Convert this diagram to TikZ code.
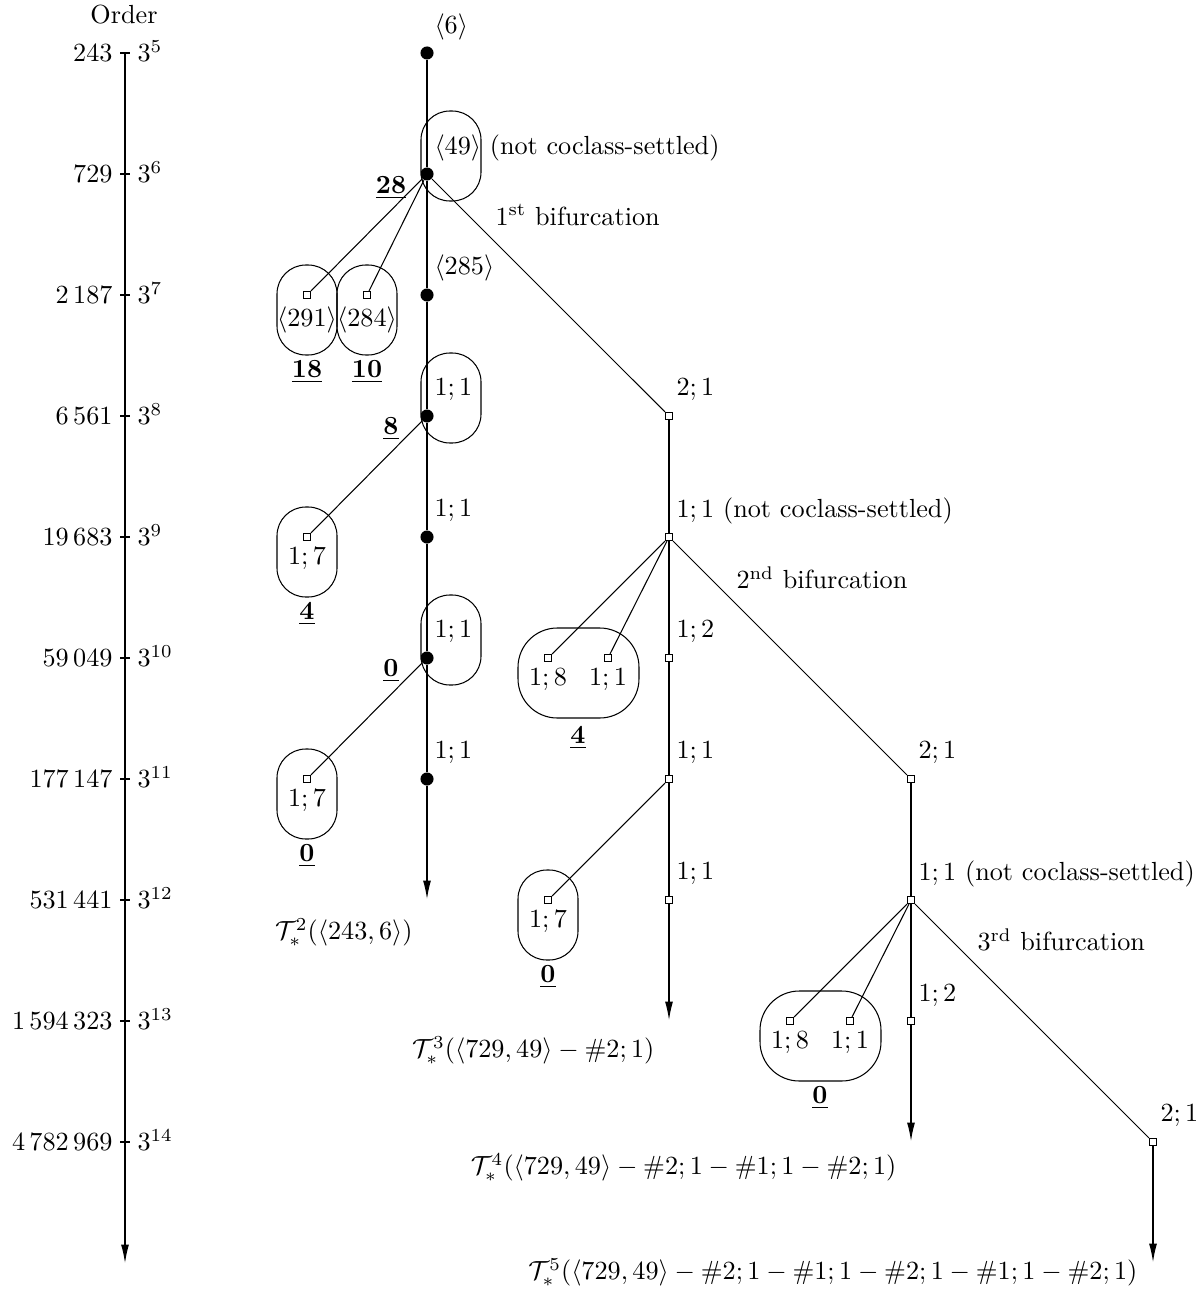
\documentclass[tikz,border=0pt]{standalone}
\usetikzlibrary{arrows.meta}
\tikzset{
  x=0.3817pt, y=-0.3817pt,
  dotn/.style={circle, fill=black, inner sep=0pt, minimum size=5pt},
  sqn/.style={draw, rectangle, inner sep=0pt, minimum size=2.7pt, line width=0.4pt},
  lbl/.style={anchor=west, inner sep=0pt},
  ctr/.style={inner sep=0pt},
  grp/.style={draw, rounded corners=11pt, line width=0.4pt},
  wgrp/.style={draw, rounded corners=15pt, line width=0.4pt},
  edge/.style={line width=0.4pt},
  arr/.style={line width=0.4pt, -{Latex[length=7pt,width=3pt]}},
}
\newcommand{\cnum}[1]{$\underline{\mathbf{#1}}$}
\begin{document}
\begin{tikzpicture}
\useasboundingbox (0,0) rectangle (1201,1289);

% ---------- order axis ----------
\node[ctr] (ordertitle) at (124,15) {Order};
\coordinate (axtop) at (125,53);
\coordinate (axend) at (125,1263);
\draw[arr] (axtop) -- (axend);
\foreach \yy/\num/\ex [count=\i] in {53/243/5, 174/729/6, 295/2\,187/7, 416/6\,561/8, 537/19\,683/9, 658/59\,049/10, 779/177\,147/11, 900/531\,441/12, 1021/1\,594\,323/13, 1142/4\,782\,969/14}{
  \coordinate (tl\i) at (120,\yy);
  \coordinate (tr\i) at (130,\yy);
  \draw[edge] (tl\i) -- (tr\i);
  \node[anchor=east, inner sep=0pt] (num\i) at (113,\yy) {$\num$};
  \node[anchor=west, inner sep=0pt] (exp\i) at (137,\yy-2) {$3^{\ex}$};
}

% ---------- main tree (coclass 2) ----------
\node[dotn] (d5) at (427,53) {};
\node[dotn] (d6) at (427,174) {};
\node[dotn] (d7) at (427,295) {};
\node[dotn] (d8) at (427,416) {};
\node[dotn] (d9) at (427,537) {};
\node[dotn] (d10) at (427,658) {};
\node[dotn] (d11) at (427,779) {};
\coordinate (e1) at (427,899);
\draw[edge] (d5) -- (d6) -- (d7) -- (d8) -- (d9) -- (d10) -- (d11);
\draw[arr] (d11) -- (e1);

\node[lbl] (l5) at (434,27) {$\langle 6\rangle$};
\node[lbl] (l6) at (434,148) {$\langle 49\rangle$ (not coclass-settled)};
\node[lbl] (l7) at (434,268) {$\langle 285\rangle$};
\node[lbl] (l8) at (434,390) {$1;1$};
\node[lbl] (l9) at (434,511) {$1;1$};
\node[lbl] (l10) at (434,632) {$1;1$};
\node[lbl] (l11) at (434,753) {$1;1$};

\draw[grp] (421,111) rectangle (481,201);
\draw[grp] (421,353) rectangle (481,443);
\draw[grp] (421,595) rectangle (481,685);

% side branches of main tree
\node[sqn] (s291) at (307,295) {};
\node[sqn] (s284) at (367,295) {};
\draw[edge] (d6) -- (s291);
\draw[edge] (d6) -- (s284);
\draw[grp] (277,265) rectangle (337,355);
\draw[grp] (337,265) rectangle (397,355);
\node[ctr] (t291) at (307,320) {$\langle 291\rangle$};
\node[ctr] (t284) at (367,320) {$\langle 284\rangle$};
\node[ctr] (n18) at (307,372) {\cnum{18}};
\node[ctr] (n10) at (367,372) {\cnum{10}};
\node[ctr] (n28) at (391,188) {\cnum{28}};

\node[sqn] (s17a) at (307,537) {};
\draw[edge] (d8) -- (s17a);
\draw[grp] (277,507) rectangle (337,597);
\node[ctr] (t17a) at (307,559) {$1;7$};
\node[ctr] (n4a) at (307,614) {\cnum{4}};
\node[ctr] (n8) at (391,429) {\cnum{8}};

\node[sqn] (s17b) at (307,779) {};
\draw[edge] (d10) -- (s17b);
\draw[grp] (277,749) rectangle (337,839);
\node[ctr] (t17b) at (307,801) {$1;7$};
\node[ctr] (n0a) at (307,856) {\cnum{0}};
\node[ctr] (n0b) at (391,671) {\cnum{0}};

\node[lbl] (bif1) at (495,215) {1\textsuperscript{st} bifurcation};
\node[anchor=north east, inner sep=0pt] (tree2) at (413,918) {$\mathcal{T}_\ast^2(\langle 243,6\rangle)$};

% ---------- branch 2 (coclass 3) ----------
\node[sqn] (b2a) at (669,416) {};
\node[sqn] (b2b) at (669,537) {};
\node[sqn] (b2c) at (669,658) {};
\node[sqn] (b2d) at (669,779) {};
\node[sqn] (b2e) at (669,900) {};
\coordinate (e2) at (669,1020);
\draw[edge] (d6) -- (b2a);
\draw[edge] (b2a) -- (b2b) -- (b2c) -- (b2d) -- (b2e);
\draw[arr] (b2e) -- (e2);
\node[lbl] (lb2a) at (676,390) {$2;1$};
\node[lbl] (lb2b) at (676,511) {$1;1$ (not coclass-settled)};
\node[lbl] (lb2c) at (676,632) {$1;2$};
\node[lbl] (lb2d) at (676,753) {$1;1$};
\node[lbl] (lb2e) at (676,874) {$1;1$};
\node[lbl] (bif2) at (736,578) {2\textsuperscript{nd} bifurcation};

\node[sqn] (q18) at (548,658) {};
\node[sqn] (q11) at (608,658) {};
\draw[edge] (b2b) -- (q18);
\draw[edge] (b2b) -- (q11);
\draw[wgrp] (518,628) rectangle (639,718);
\node[ctr] (tq18) at (548,680) {$1;8$};
\node[ctr] (tq11) at (608,680) {$1;1$};
\node[ctr] (n4b) at (578,738) {\cnum{4}};

\node[sqn] (q17) at (548,900) {};
\draw[edge] (b2d) -- (q17);
\draw[grp] (518,870) rectangle (578,960);
\node[ctr] (tq17) at (548,922) {$1;7$};
\node[ctr] (n0c) at (548,977) {\cnum{0}};

\node[anchor=north east, inner sep=0pt] (tree3) at (655,1036) {$\mathcal{T}_\ast^3(\langle 729,49\rangle-\#2;1)$};

% ---------- branch 3 (coclass 4) ----------
\node[sqn] (c3a) at (911,779) {};
\node[sqn] (c3b) at (911,900) {};
\node[sqn] (c3c) at (911,1021) {};
\coordinate (e3) at (911,1141);
\draw[edge] (b2b) -- (c3a);
\draw[edge] (c3a) -- (c3b) -- (c3c);
\draw[arr] (c3c) -- (e3);
\node[lbl] (lc3a) at (918,753) {$2;1$};
\node[lbl] (lc3b) at (918,874) {$1;1$ (not coclass-settled)};
\node[lbl] (lc3c) at (918,996) {$1;2$};
\node[lbl] (bif3) at (977,940) {3\textsuperscript{rd} bifurcation};

\node[sqn] (r18) at (790,1021) {};
\node[sqn] (r11) at (850,1021) {};
\draw[edge] (c3b) -- (r18);
\draw[edge] (c3b) -- (r11);
\draw[wgrp] (760,991) rectangle (881,1081);
\node[ctr] (tr18) at (790,1043) {$1;8$};
\node[ctr] (tr11) at (850,1043) {$1;1$};
\node[ctr] (n0d) at (820,1098) {\cnum{0}};

\node[anchor=north east, inner sep=0pt] (tree4) at (897,1153) {$\mathcal{T}_\ast^4(\langle 729,49\rangle-\#2;1-\#1;1-\#2;1)$};

% ---------- branch 4 (coclass 5) ----------
\node[sqn] (d4a) at (1153,1142) {};
\coordinate (e4) at (1153,1262);
\draw[edge] (c3b) -- (d4a);
\draw[arr] (d4a) -- (e4);
\node[lbl] (ld4a) at (1160,1116) {$2;1$};

\node[anchor=north east, inner sep=0pt] (tree5) at (1138,1258) {$\mathcal{T}_\ast^5(\langle 729,49\rangle-\#2;1-\#1;1-\#2;1-\#1;1-\#2;1)$};
\end{tikzpicture}
\end{document}
